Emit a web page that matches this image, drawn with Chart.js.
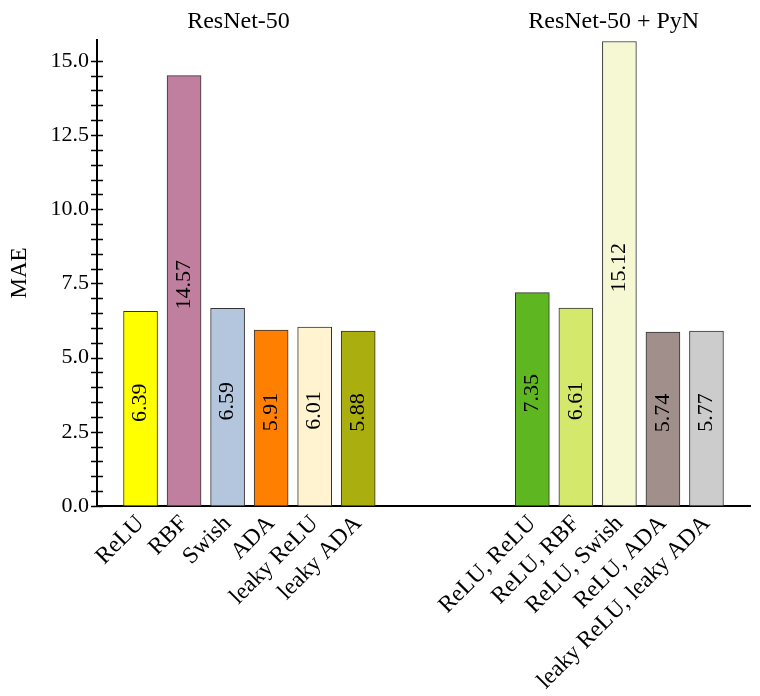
<!DOCTYPE html>
<html>
<head>
<meta charset="utf-8">
<script src="https://cdn.jsdelivr.net/npm/chart.js@4/dist/chart.umd.min.js"></script>
<style>
  html, body { margin: 0; padding: 0; background: #fff; }
  #wrap { width: 760px; height: 696px; position: relative; }
</style>
</head>
<body>
<div id="wrap"><canvas id="maeChart"></canvas></div>
<script>
// ResNet-50 (single activation)
const groupA = ['ReLU', 'RBF', 'Swish', 'ADA', 'leaky ReLU', 'leaky ADA'];
const maeA = [6.56, 14.50, 6.66, 5.93, 6.03, 5.89];
const shownA = ['6.39', '14.57', '6.59', '5.91', '6.01', '5.88'];
const colorsA = ['#ffff00', '#c07f9e', '#b3c6dd', '#ff7f00', '#fff4cf', '#aaae0e'];

// ResNet-50 + PyN (pairs of activations)
const groupB = ['ReLU, ReLU', 'ReLU, RBF', 'ReLU, Swish', 'ReLU, ADA', 'leaky ReLU, leaky ADA'];
const maeB = [7.19, 6.67, 15.65, 5.86, 5.89];
const shownB = ['7.35', '6.61', '15.12', '5.74', '5.77'];
const colorsB = ['#5eb620', '#d4e96c', '#f6f8d4', '#a08f8a', '#cccccc'];

const titles = ['ResNet-50', 'ResNet-50 + PyN'];
const yLabel = 'MAE';

// spacer slots: one before, three between the groups, one after
const labels = ['', ...groupA, '', '', '', ...groupB, ''];
const values = [null, ...maeA, null, null, null, ...maeB, null];
const shown = [null, ...shownA, null, null, null, ...shownB, null];
const colors = ['#fff', ...colorsA, '#fff', '#fff', '#fff', ...colorsB, '#fff'];

const FONT = '"Liberation Serif", "DejaVu Serif", serif';

const decor = {
  id: 'decor',
  afterDatasetsDraw(chart) {
    const { ctx } = chart;
    const meta = chart.getDatasetMeta(0);
    ctx.save();
    ctx.font = `22px ${FONT}`;
    ctx.fillStyle = '#000';
    ctx.textAlign = 'center';
    ctx.textBaseline = 'middle';
    meta.data.forEach((bar, i) => {
      if (shown[i] == null) return;
      const { x, y, base } = bar.getProps(['x', 'y', 'base'], true);
      ctx.save();
      ctx.translate(x, (y + base) / 2 - 6);
      ctx.rotate(-Math.PI / 2);
      ctx.fillText(shown[i], 0, 0);
      ctx.restore();
    });
    ctx.restore();
  },
  afterDraw(chart) {
    const { ctx, chartArea } = chart;
    const ys = chart.scales.y;
    const xs = chart.scales.x;
    ctx.save();
    // tick marks crossing the y axis
    ctx.strokeStyle = '#000';
    ctx.lineWidth = 1.5;
    ys.ticks.forEach(t => {
      const v = t.value;
      if (Math.abs(v * 2 - Math.round(v * 2)) > 1e-6) return;
      const py = Math.round(ys.getPixelForValue(v)) + 0.5;
      ctx.beginPath();
      ctx.moveTo(chartArea.left - 6, py);
      ctx.lineTo(chartArea.left + 6, py);
      ctx.stroke();
    });
    // group titles
    ctx.font = `24px ${FONT}`;
    ctx.fillStyle = '#000';
    ctx.textAlign = 'center';
    ctx.textBaseline = 'middle';
    const c1 = (chartArea.left + xs.getPixelForValue(6.5)) / 2;
    const c2 = (xs.getPixelForValue(8.6) + chartArea.right + 6) / 2;
    ctx.fillText(titles[0], c1, 22);
    ctx.fillText(titles[1], c2, 22);
    ctx.restore();
  }
};

new Chart(document.getElementById('maeChart'), {
  type: 'bar',
  data: {
    labels,
    datasets: [{
      data: values,
      backgroundColor: colors,
      borderColor: '#333',
      borderWidth: 1,
      borderSkipped: false,
      barThickness: 34,
    }],
  },
  options: {
    responsive: true,
    maintainAspectRatio: false,
    animation: false,
    layout: { padding: { top: 40, right: 10, left: 6, bottom: 0 } },
    plugins: { legend: { display: false }, tooltip: { enabled: false } },
    scales: {
      x: {
        offset: false,
        z: 1,
        grid: { display: false, drawTicks: false },
        border: { display: true, color: '#000', width: 2 },
        ticks: {
          autoSkip: false,
          maxRotation: 45,
          minRotation: 45,
          padding: 4,
          color: '#000',
          font: { family: FONT, size: 23.5 },
        },
        afterFit(scale) {
          scale.height = 190;
          scale.paddingRight = 0;
          scale.paddingLeft = 0;
        },
      },
      y: {
        min: 0,
        max: 15.7,
        z: 1,
        grid: { display: false, drawTicks: false },
        border: { display: true, color: '#000', width: 2 },
        title: { display: true, text: yLabel, color: '#000', font: { family: FONT, size: 23 }, padding: { top: 0, bottom: 0 } },
        ticks: {
          stepSize: 0.5,
          autoSkip: false,
          padding: 8,
          color: '#000',
          font: { family: FONT, size: 22 },
          callback(v) {
            const k = v / 2.5;
            return Math.abs(k - Math.round(k)) < 1e-6 ? v.toFixed(1) : '';
          },
        },
        afterFit(scale) { scale.width = 91; },
      },
    },
  },
  plugins: [decor],
});
</script>
</body>
</html>
